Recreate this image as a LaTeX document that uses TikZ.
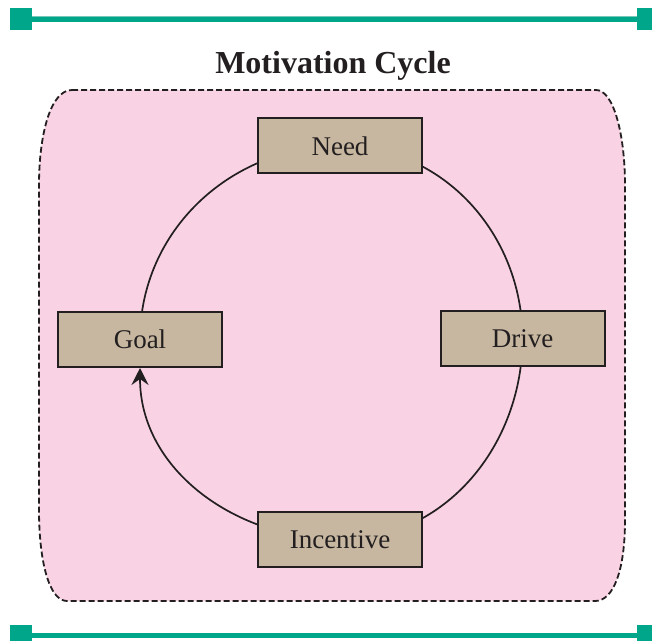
\documentclass[tikz,border=0pt]{standalone}
\usepackage{fontspec}
\setmainfont{Liberation Serif}
\usetikzlibrary{arrows.meta}
\definecolor{teal}{RGB}{0,166,137}
\definecolor{teallight}{RGB}{120,200,185}
\definecolor{pinkbg}{RGB}{249,211,228}
\definecolor{tan}{RGB}{199,183,160}
\definecolor{ink}{RGB}{35,31,32}
\pgfdeclarelayer{bg}
\pgfdeclarelayer{mid}
\pgfsetlayers{bg,mid,main}
\tikzset{
  box/.style={draw=ink, line width=2pt, fill=tan, rectangle, minimum width=164pt, minimum height=55pt, inner sep=0pt, text=ink, font=\fontsize{27}{31}\selectfont},
  cyc/.style={draw=ink, line width=1.7pt},
  frame/.style={draw=ink, line width=1.8pt, dash pattern=on 6pt off 3pt, fill=pinkbg},
  bar/.style={fill=teal, draw=none}
}
\begin{document}
\begin{tikzpicture}[x=1pt,y=1pt]
\useasboundingbox (0,0) rectangle (652,641);
% teal bars
\fill[bar] (10,611) rectangle (32,633);
\fill[bar] (32,619) rectangle (637,624);
\fill[teallight] (32,624) rectangle (637,625);
\fill[bar] (637,611) rectangle (652,633);
\fill[bar] (10,0) rectangle (32,16);
\fill[bar] (32,3) rectangle (637,8);
\fill[bar] (637,0) rectangle (652,16);
% title
\node[anchor=base, font=\bfseries\fontsize{32}{36}\selectfont, text=ink] (title) at (333,567) {Motivation Cycle};
% frame
\begin{pgfonlayer}{bg}
\path[frame] (72,551) -- (596,551) .. controls (614,551) and (625,505) .. (625,456)
  -- (625,121) .. controls (625,72) and (614,40) .. (595,40)
  -- (67,40) .. controls (49,40) and (39,80) .. (39,131)
  -- (39,456) .. controls (39,505) and (50,551) .. (72,551) -- cycle;
\end{pgfonlayer}
% nodes
\node[box] (need) at (340,495) {Need};
\node[box] (drive) at (522.5,302.5) {Drive};
\node[box] (incentive) at (340,101.5) {Incentive};
\node[box] (goal) at (140,301.5) {Goal};
% cycle
\begin{pgfonlayer}{mid}
\draw[cyc] (need.center) to[out=0,in=90] (drive.center);
\draw[cyc] (drive.center) to[out=-90,in=0] (incentive.center);
\draw[cyc] (goal.center) to[out=90,in=180] (need.center);
\draw[cyc, -{Stealth[length=17pt,width=17pt,inset=6pt]}] (incentive.center) to[out=180,in=-90] (goal);
\end{pgfonlayer}
\end{tikzpicture}
\end{document}
